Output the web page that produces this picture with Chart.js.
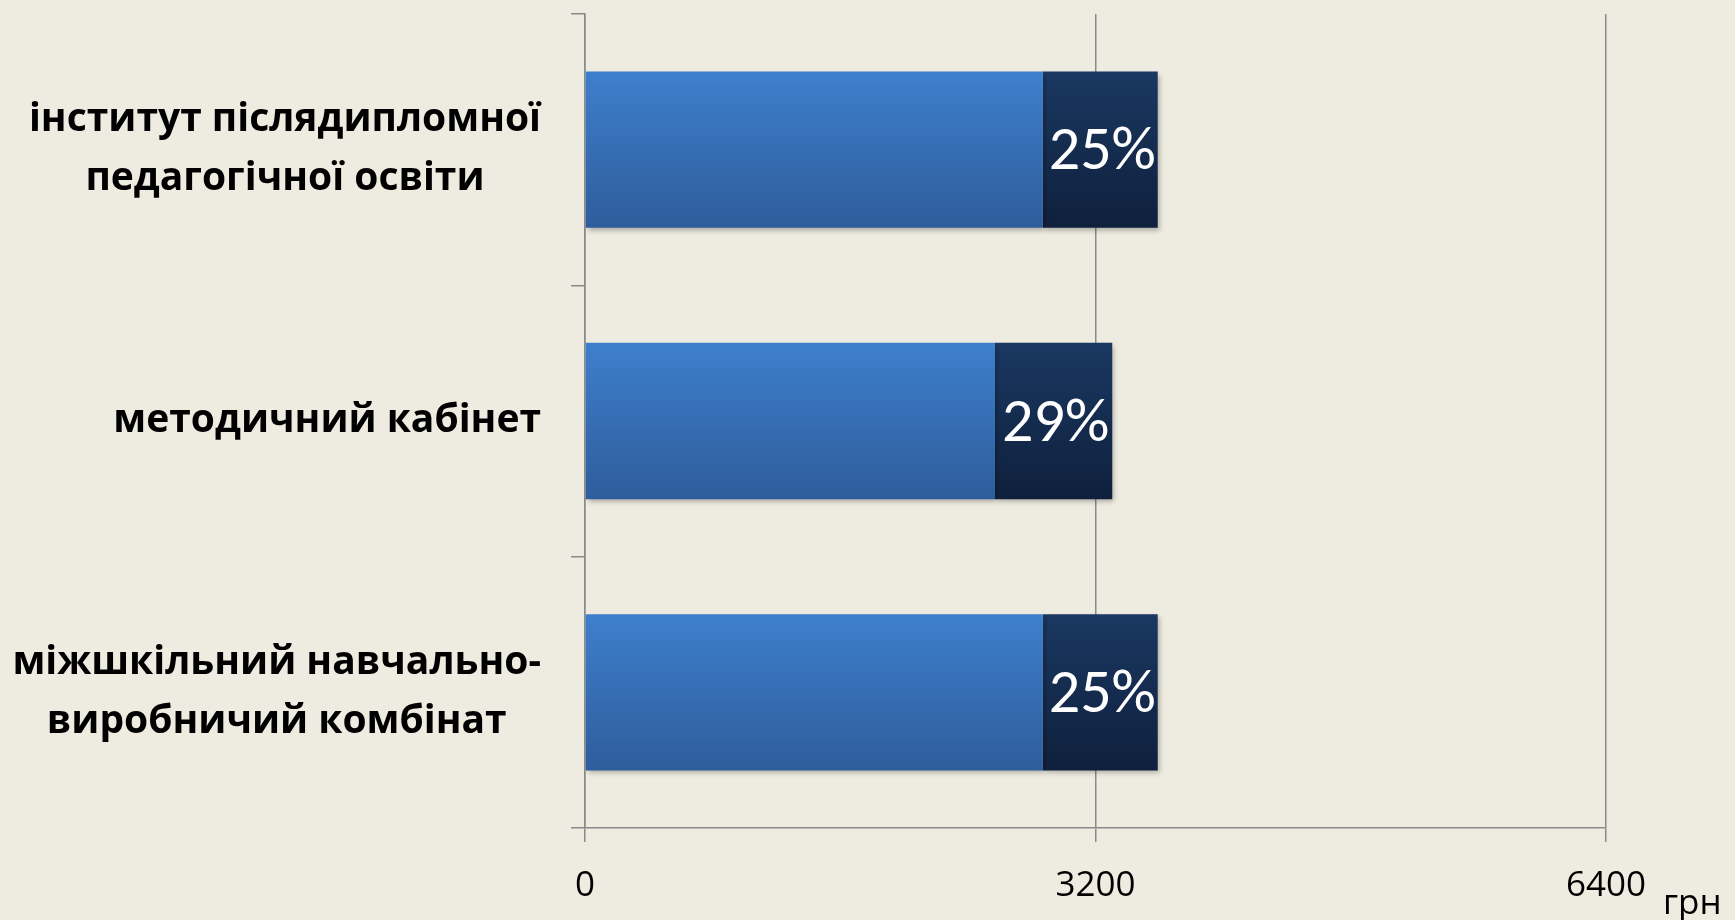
<!DOCTYPE html>
<html>
<head>
<meta charset="utf-8">
<script src="https://cdn.jsdelivr.net/npm/chart.js@4/dist/chart.umd.min.js"></script>
<style>
  html, body { margin: 0; padding: 0; background: #eeebe0; }
  #wrap { width: 1735px; height: 920px; }
</style>
</head>
<body>
<div id="wrap"><canvas id="myChart"></canvas></div>
<script>
// chart data
const categories = [
  ["інститут післядипломної", "педагогічної освіти"],
  ["методичний кабінет"],
  ["міжшкільний навчально-", "виробничий комбінат"]
];
const baseValues = [2870, 2570, 2870];
const extraValues = [720, 735, 720];
const extraLabels = ["25%", "29%", "25%"];
const xTicks = [0, 3200, 6400];
const unitLabel = "грн";

const barPct = 0.576;
const gridColor = "#8a8a8a";

// vertical gradient for each bar
function barGradient(top, bottom) {
  return function (context) {
    const chart = context.chart;
    const y = chart.scales.y;
    if (!y) return top;
    const half = (y.height / categories.length) * barPct / 2;
    const cy = y.getPixelForValue(context.dataIndex);
    if (!Number.isFinite(cy) || !Number.isFinite(half) || half <= 0) return top;
    const g = chart.ctx.createLinearGradient(0, cy - half, 0, cy + half);
    g.addColorStop(0, top);
    g.addColorStop(1, bottom);
    return g;
  };
}

// shadow under the bars
const barShadow = {
  id: "barShadow",
  beforeDatasetsDraw(chart) {
    const ctx = chart.ctx;
    ctx.save();
    ctx.shadowColor = "rgba(0,0,0,0.28)";
    ctx.shadowBlur = 5;
    ctx.shadowOffsetX = 2;
    ctx.shadowOffsetY = 3;
  },
  afterDatasetsDraw(chart) {
    chart.ctx.restore();
  }
};

// percent labels, category labels and unit
const extraText = {
  id: "extraText",
  afterDraw(chart) {
    const ctx = chart.ctx;
    const yScale = chart.scales.y;
    const xScale = chart.scales.x;

    // percent on dark part
    const meta = chart.getDatasetMeta(1);
    ctx.save();
    ctx.fillStyle = "#ffffff";
    ctx.font = '62px Carlito, "Open Sans", sans-serif';
    ctx.textAlign = "center";
    ctx.textBaseline = "middle";
    meta.data.forEach((bar, i) => {
      ctx.fillText(extraLabels[i], (bar.x + bar.base) / 2 + 2, bar.y + 4);
    });

    // category labels: block right aligned, lines centered
    ctx.fillStyle = "#000000";
    ctx.font = 'bold 39px "Open Sans", sans-serif';
    const lineH = 59;
    const rightEdge = yScale.left - 30;
    categories.forEach((lines, i) => {
      const cy = yScale.getPixelForValue(i);
      let w = 0;
      lines.forEach((l) => { w = Math.max(w, ctx.measureText(l).width); });
      const cx = rightEdge - w / 2;
      lines.forEach((l, j) => {
        ctx.fillText(l, cx, cy + (j - (lines.length - 1) / 2) * lineH);
      });
    });

    // unit
    ctx.font = '35px "Open Sans", sans-serif';
    ctx.textAlign = "left";
    ctx.fillText(unitLabel, xScale.right + 57, xScale.top + 76);
    ctx.restore();
  }
};

const ctx = document.getElementById("myChart").getContext("2d");
const myChart = new Chart(ctx, {
  type: "bar",
  data: {
    labels: categories,
    datasets: [
      {
        label: "base",
        data: baseValues,
        backgroundColor: barGradient("#3e7fcd", "#2e5d9b"),
        borderWidth: 0,
        barPercentage: 1,
        categoryPercentage: barPct
      },
      {
        label: "extra",
        data: extraValues,
        backgroundColor: barGradient("#1a3862", "#0f203c"),
        borderWidth: 0,
        barPercentage: 1,
        categoryPercentage: barPct
      }
    ]
  },
  options: {
    indexAxis: "y",
    responsive: true,
    maintainAspectRatio: false,
    animation: false,
    layout: {
      padding: { left: 571, right: 129, top: 14, bottom: 14 }
    },
    plugins: {
      legend: { display: false },
      tooltip: { enabled: false }
    },
    scales: {
      x: {
        stacked: true,
        min: 0,
        max: 6400,
        afterBuildTicks(scale) {
          scale.ticks = xTicks.map((v) => ({ value: v }));
        },
        afterFit(scale) {
          scale.height = 78;
        },
        grid: {
          color: gridColor,
          lineWidth: 1.5,
          tickLength: 14
        },
        border: { color: gridColor, width: 1.5 },
        ticks: {
          color: "#000000",
          padding: 23,
          maxRotation: 0,
          font: { family: '"Open Sans", sans-serif', size: 35 },
          callback: (v) => String(v)
        }
      },
      y: {
        stacked: true,
        grid: {
          color: gridColor,
          lineWidth: 1.5,
          drawOnChartArea: false,
          tickLength: 14
        },
        border: { color: gridColor, width: 1.5 },
        ticks: { display: false }
      }
    }
  },
  plugins: [barShadow, extraText]
});
</script>
</body>
</html>
